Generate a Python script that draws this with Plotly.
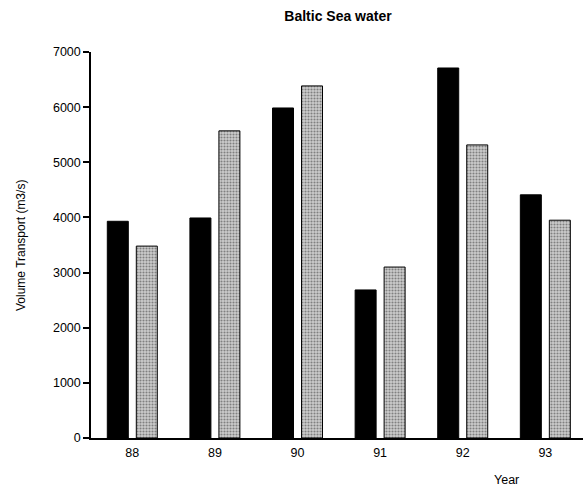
import plotly.graph_objects as go

years = ["88", "89", "90", "91", "92", "93"]
series_black = [3930, 3990, 5985, 2685, 6710, 4410]
series_gray = [3480, 5570, 6385, 3100, 5315, 3950]
y_ticks = [0, 1000, 2000, 3000, 4000, 5000, 6000, 7000]

FONT = "Liberation Sans, Arial, Helvetica, sans-serif"

fig = go.Figure()
fig.add_trace(go.Bar(
    x=years, y=series_black,
    marker=dict(color="#000000", line=dict(color="#000000", width=1)),
    showlegend=False,
))
fig.add_trace(go.Bar(
    x=years, y=series_gray,
    marker=dict(
        color="#c4c4c4",
        line=dict(color="#000000", width=1),
        pattern=dict(shape=".", fgcolor="#333333", bgcolor="#cccccc", size=3, solidity=0.4),
    ),
    showlegend=False,
))

L, T, PW, PH = 91, 52, 492, 386

fig.update_layout(
    width=583, height=492,
    margin=dict(l=L, r=0, t=T, b=492 - T - PH),
    paper_bgcolor="white", plot_bgcolor="white",
    barmode="group", bargap=0.298, bargroupgap=0.276,
    font=dict(family=FONT, size=12, color="black"),
    title=dict(text="<b>Baltic Sea water</b>", x=338 / 583, xanchor="center",
               y=1 - 16 / 492, yanchor="middle", font=dict(size=14, family=FONT)),
    xaxis=dict(
        type="category", range=[-0.5, 5.456],
        showline=True, linecolor="black", linewidth=1.5,
        ticks="", showgrid=False, zeroline=False,
        tickfont=dict(size=12.5), ticklabelstandoff=2,
    ),
    yaxis=dict(
        range=[0, 7000], tickvals=y_ticks,
        showline=True, linecolor="black", linewidth=1.5,
        ticks="outside", ticklen=6, tickcolor="black", tickwidth=1.5,
        showgrid=False, zeroline=False,
        tickfont=dict(size=12.5),
    ),
    annotations=[
        dict(text="Volume Transport (m3/s)", textangle=-90,
             x=(21 - L) / PW, y=(438 - 246) / PH, xref="paper", yref="paper",
             xanchor="center", yanchor="middle", showarrow=False,
             font=dict(size=12)),
        dict(text="Year", x=(506 - L) / PW, y=(438 - 480) / PH,
             xref="paper", yref="paper", xanchor="center", yanchor="middle",
             showarrow=False, font=dict(size=12.5)),
    ],
)

fig.write_html("out.html")
